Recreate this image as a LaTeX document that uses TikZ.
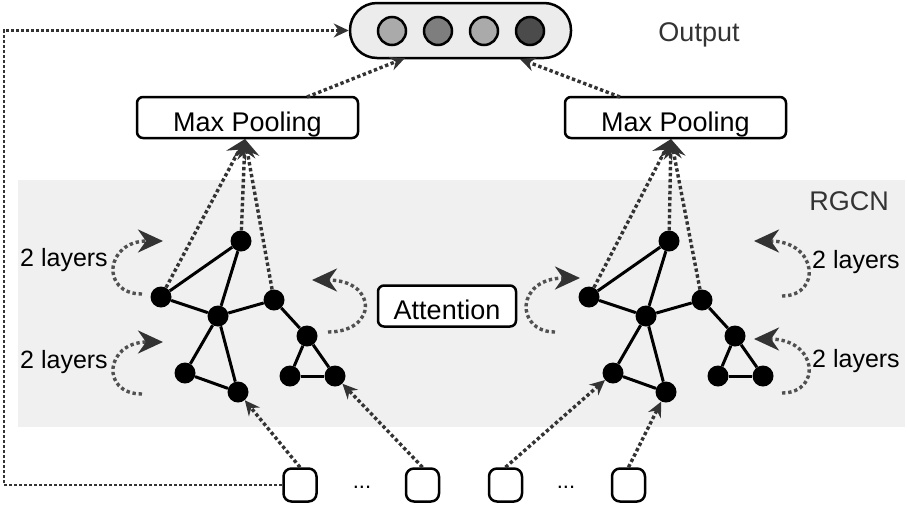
\documentclass[tikz,border=0pt]{standalone}
\usepackage{fontspec}
\setmainfont{Liberation Sans}
\usetikzlibrary{arrows.meta,calc}
\definecolor{bandgray}{HTML}{F0F0F0}
\definecolor{pillgray}{HTML}{ECECEC}
\definecolor{dk}{HTML}{333333}
\definecolor{loopgray}{HTML}{505050}
\definecolor{cA}{HTML}{AAAAAA}
\definecolor{cB}{HTML}{7E7E7E}
\definecolor{cC}{HTML}{AAAAAA}
\definecolor{cD}{HTML}{4B4B4B}
\begin{document}
\begin{tikzpicture}[x=1pt,y=-1pt,
  gnode/.style={circle, fill=black, inner sep=0pt, minimum size=21pt},
  gedge/.style={line width=3pt, black},
  boxbase/.style={draw=black, line width=2.5pt, rounded corners=6pt, fill=white, inner sep=0pt, text height=27pt, text depth=0pt, font=\fontsize{27}{30}\selectfont},
  mpbox/.style={boxbase, minimum width=221pt, minimum height=41pt},
  attbox/.style={boxbase, minimum width=138pt, minimum height=41pt},
  inbox/.style={draw=black, line width=2.5pt, rounded corners=8pt, fill=white, minimum width=33pt, minimum height=33pt, inner sep=0pt},
  pill/.style={draw=black, line width=2.5pt, rounded corners=27pt, fill=pillgray, minimum width=221pt, minimum height=55pt, inner sep=0pt},
  outcirc/.style={circle, draw=black, line width=2.5pt, minimum size=28pt, inner sep=0pt},
  lbl/.style={font=\fontsize{27}{30}\selectfont, text=dk, inner sep=0pt},
  layerlbl/.style={font=\fontsize{25}{28}\selectfont, text=black, inner sep=0pt},
  dotline/.style={line width=3.4pt, dash pattern=on 3.4pt off 2.6pt, draw=dk},
  bigtip/.style={-{Stealth[length=25pt,width=23pt,inset=8pt,color=dk]}},
  midtip/.style={-{Stealth[length=19pt,width=22pt,inset=7pt]}},
  smalltip/.style={-{Stealth[length=15pt,width=14pt,inset=5pt]}},
  looppath/.style={line width=3.4pt, dash pattern=on 3.4pt off 2.8pt, draw=loopgray, bigtip}
]
\useasboundingbox (0,0) rectangle (907,507);
% RGCN band
\fill[bandgray] (18,180) rectangle (905,427);
\node[lbl] (rgcn) at (849,201) {RGCN};

% output
\node[pill] (out) at (460.5,30.5) {};
\node[outcirc, fill=cA] (o1) at (392,31) {};
\node[outcirc, fill=cB] (o2) at (438,31) {};
\node[outcirc, fill=cC] (o3) at (484,31) {};
\node[outcirc, fill=cD] (o4) at (530,31) {};
\node[lbl] (outlbl) at (699,35) {Output};

% max pooling
\node[mpbox] (mpL) at (247.5,117.5) {Max Pooling};
\node[mpbox] (mpR) at (675.5,117.5) {Max Pooling};

% attention
\node[attbox] (att) at (447,306) {Attention};

% graphs
\foreach \s/\dx in {L/0,R/428}{
  \node[gnode] (\s A) at (241+\dx,241) {};
  \node[gnode] (\s B) at (161+\dx,297) {};
  \node[gnode] (\s C) at (218+\dx,316) {};
  \node[gnode] (\s D) at (274+\dx,300) {};
  \node[gnode] (\s E) at (307+\dx,336) {};
  \node[gnode] (\s F) at (290+\dx,376) {};
  \node[gnode] (\s G) at (335+\dx,376) {};
  \node[gnode] (\s H) at (185+\dx,373) {};
  \node[gnode] (\s I) at (238+\dx,392) {};
  \foreach \u/\v in {A/B,A/C,B/C,C/D,D/E,E/F,E/G,F/G,C/H,C/I,H/I}{
    \draw[gedge] (\s\u) -- (\s\v);
  }
}

% graph -> max pooling
\coordinate (mpLin) at (245,139);
\coordinate (mpRin) at (671,139);
\foreach \n in {B,A,D}{
  \draw[dotline, midtip, color=dk] (L\n) -- (mpLin);
  \draw[dotline, midtip, color=dk] (R\n) -- (mpRin);
}

% max pooling -> output
\coordinate (mpLtop) at (307,97);
\coordinate (outLin) at (405,58);
\coordinate (mpRtop) at (620,97);
\coordinate (outRin) at (520,59);
\draw[dotline, smalltip, color=dk] (mpLtop) -- (outLin);
\draw[dotline, smalltip, color=dk] (mpRtop) -- (outRin);

% inputs
\node[inbox] (in1) at (300,485) {};
\node[inbox] (in2) at (422.5,485) {};
\node[inbox] (in3) at (505.5,485) {};
\node[inbox] (in4) at (628.5,485) {};
\node[font=\fontsize{22}{24}\selectfont, anchor=base, inner sep=0pt] (dots1) at (362,488) {...};
\node[font=\fontsize{22}{24}\selectfont, anchor=base, inner sep=0pt] (dots2) at (566,488) {...};

\draw[dotline, smalltip, color=dk] (in1.north) -- (LI);
\draw[dotline, smalltip, color=dk] (in2.north) -- (LG);
\draw[dotline, smalltip, color=dk] (in3.north) -- (RH);
\draw[dotline, smalltip, color=dk] (in4.north) -- (RI);

% feedback line
\coordinate (fbcorner) at (4,485);
\draw[line width=2.8pt, dash pattern=on 2.8pt off 2.2pt, draw=dk, smalltip, color=dk] (in1.west) -- (fbcorner) |- (out.west);

% layer loops and labels
\node[layerlbl] (l1) at (64,260) {2 layers};
\node[layerlbl] (l2) at (64,362) {2 layers};
\node[layerlbl] (l3) at (856,262) {2 layers};
\node[layerlbl] (l4) at (856,361) {2 layers};

\draw[looppath] (142,294) .. controls (100,294) and (105,241) .. (163,241);
\draw[looppath] (142,394) .. controls (100,394) and (105,342) .. (163,342);
\draw[looppath] (782,296) .. controls (822,296) and (818,241) .. (754,241);
\draw[looppath] (782,393) .. controls (822,393) and (818,339) .. (754,339);
% attention loops
\draw[looppath] (328,332) .. controls (378,332) and (378,280) .. (312,280);
\draw[looppath] (555,332) .. controls (515,332) and (515,278) .. (580,278);
\end{tikzpicture}
\end{document}
